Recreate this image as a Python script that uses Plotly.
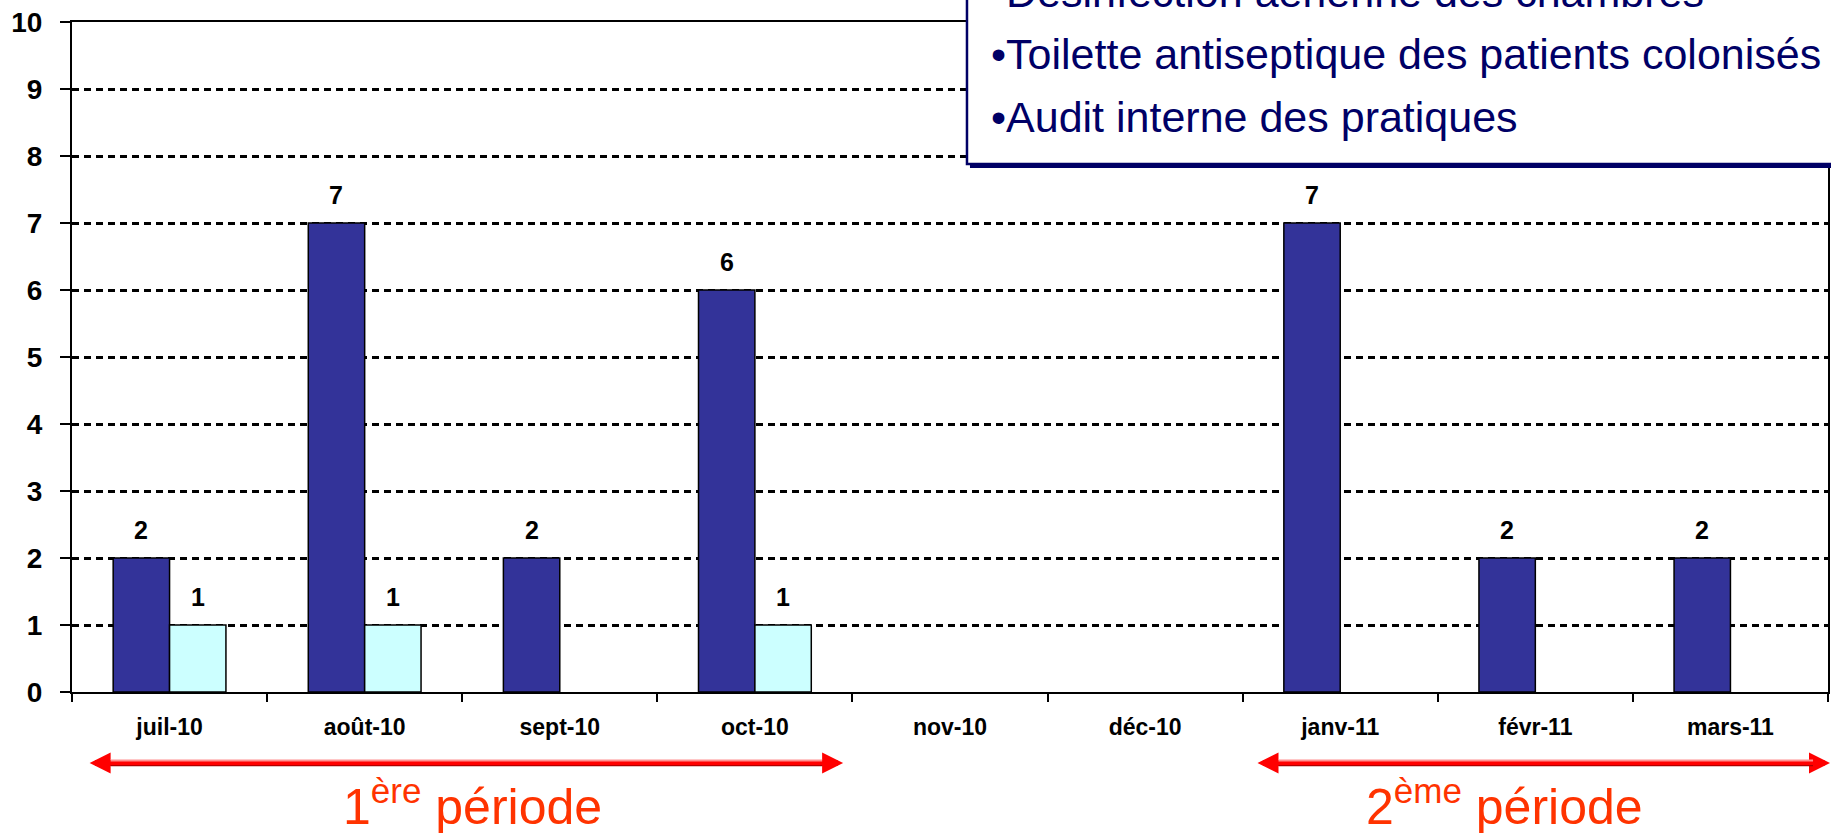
import plotly.graph_objects as go

# ---- data ----
months = ["juil-10", "août-10", "sept-10", "oct-10", "nov-10", "déc-10",
          "janv-11", "févr-11", "mars-11"]
series_dark = [2, 7, 2, 6, 0, 0, 7, 2, 2]
series_light = [1, 1, 0, 1, 0, 0, 0, 0, 0]
y_ticks = list(range(0, 11))
box_lines = ["•Désinfection aérienne des chambres",
             "•Toilette antiseptique des patients colonisés",
             "•Audit interne des pratiques"]
period_labels = ["1<sup>ère</sup> période", "2<sup>ème</sup> période"]

# ---- layout geometry ----
W, H = 1831, 833
ML, MR, MT, MB = 72, 1, 22, 141
PW = W - ML - MR
PH = H - MT - MB
BARGAP = 0.422


def px(xpix):
    return (xpix - ML) / PW


def py(ypix):
    return (H - MB - ypix) / PH


FONT = "Arial, Liberation Sans, sans-serif"
NAVY = "#000066"
RED = "#FF3300"


def visible(vals):
    return [v if v else None for v in vals]


fig = go.Figure()
fig.add_trace(go.Bar(x=months, y=visible(series_dark),
                     marker=dict(color="#333399", line=dict(color="black", width=1.5)),
                     showlegend=False))
fig.add_trace(go.Bar(x=months, y=visible(series_light),
                     marker=dict(color="#CCFFFF", line=dict(color="black", width=1.5)),
                     showlegend=False))

cat_w = PW / len(months)
bar_w = cat_w * (1 - BARGAP) / 2
annotations = []
for series, sh in ((series_dark, -bar_w / 2), (series_light, bar_w / 2)):
    for m, v in zip(months, series):
        if v > 0:
            annotations.append(dict(x=m, y=v, xref="x", yref="y", text=str(v),
                                    showarrow=False, xshift=sh, yshift=12,
                                    yanchor="bottom",
                                    font=dict(family=FONT, size=25, color="black",
                                              weight="bold")))

# text box lines
for line, base in zip(box_lines, [7, 69, 132]):
    annotations.append(dict(x=px(990), y=py(base - 15), xref="paper", yref="paper",
                            text=line, showarrow=False, xanchor="left",
                            yanchor="middle",
                            font=dict(family=FONT, size=43, color=NAVY)))

# period arrows (double-headed, with light/dark edges on the shaft)
HEAD = 21
for x_left, x_right in ((89, 844), (1258, 1836)):
    annotations.append(dict(x=px(x_right), y=py(763), xref="paper", yref="paper",
                            ax=-(x_right - x_left), ay=0, text="", showarrow=True,
                            arrowside="end+start", arrowhead=2, startarrowhead=2,
                            arrowsize=0.7, startarrowsize=0.7, arrowwidth=6,
                            arrowcolor="#FF0000"))
    for yy, col, wd in ((760.5, "#FF9090", 2), (765.7, "#B00000", 1.2)):
        annotations.append(dict(x=px(x_right - HEAD), y=py(yy), xref="paper",
                                yref="paper", ax=-(x_right - x_left - 2 * HEAD), ay=0,
                                text="", showarrow=True, arrowhead=0,
                                arrowwidth=wd, arrowcolor=col))

# period labels
for lab, xc in zip(period_labels, (473, 1506)):
    annotations.append(dict(x=px(xc), y=py(803), xref="paper", yref="paper",
                            text=lab, showarrow=False, xanchor="center",
                            yanchor="middle",
                            font=dict(family=FONT, size=50, color=RED)))

shapes = [
    dict(type="rect", xref="paper", yref="paper", x0=px(971), x1=px(1900),
         y0=py(168), y1=py(-60), fillcolor=NAVY, line=dict(width=0),
         layer="above"),
    dict(type="rect", xref="paper", yref="paper", x0=px(968), x1=px(1900),
         y0=py(164), y1=py(-60), fillcolor="white",
         line=dict(color=NAVY, width=2.5), layer="above"),
]

fig.update_layout(
    width=W, height=H,
    margin=dict(l=ML, r=MR, t=MT, b=MB, pad=0),
    paper_bgcolor="white", plot_bgcolor="white",
    barmode="group", bargap=BARGAP, bargroupgap=0,
    annotations=annotations, shapes=shapes,
    font=dict(family=FONT, color="black"),
)
fig.update_xaxes(
    type="category", showline=True, linecolor="black", linewidth=2, mirror=True,
    ticks="outside", tickson="boundaries", ticklen=8, tickwidth=2, tickcolor="black",
    tickfont=dict(family=FONT, size=23, color="black", weight="bold"),
    ticklabelstandoff=13, showgrid=False, zeroline=False,
)
fig.update_yaxes(
    range=[0, 10], tickvals=y_ticks, showline=True, linecolor="black", linewidth=2,
    mirror=True, ticks="outside", ticklen=10, tickwidth=2, tickcolor="black",
    tickfont=dict(family=FONT, size=28, color="black", weight="bold"),
    ticklabelstandoff=12, showgrid=True, gridcolor="black", gridwidth=2.5,
    griddash="7px,5px", zeroline=False,
)

fig.write_html("out.html",
               config={"displayModeBar": False},
               post_script="document.body.style.margin='0';"
                           "document.body.style.overflow='hidden';")
